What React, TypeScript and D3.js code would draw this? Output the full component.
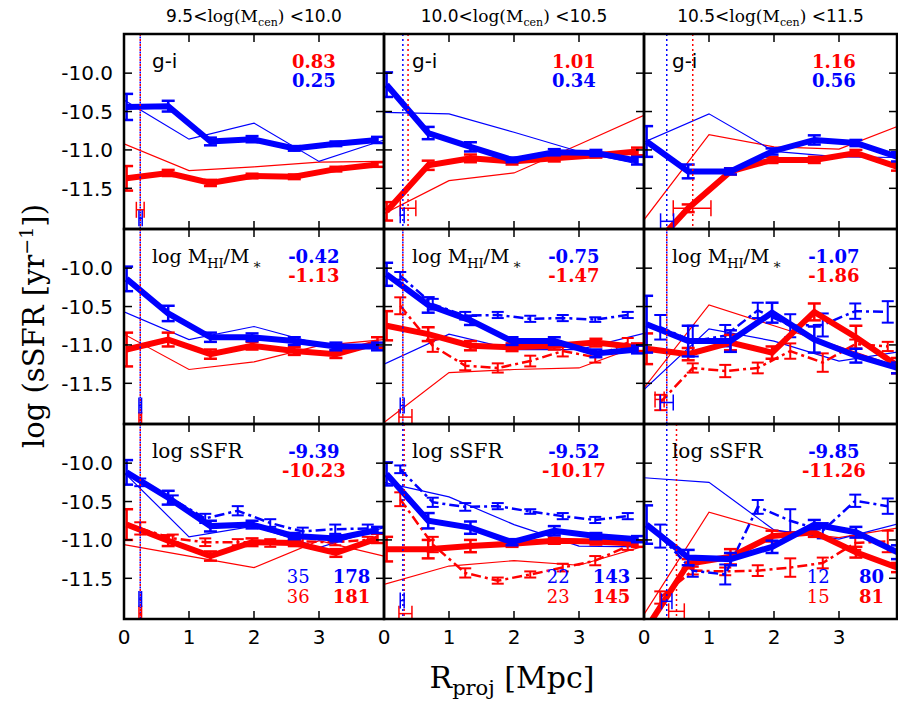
import React from "react";
import * as d3 from "d3";

// ---------- axes / labels ----------
const colLo = ["9.5", "10.0", "10.5"];
const colHi = ["10.0", "10.5", "11.5"];
const yTicks = [-10.0, -10.5, -11.0, -11.5];
const xTicks = [0, 1, 2, 3];
const xMinorTicks = [1, 2, 3];

// x positions of the three kinds of curves (Mpc)
const xThick = [0.04, 0.68, 1.33, 1.97, 2.62, 3.26, 3.9];
const xThin = [0, 1, 2, 3, 4];
const xDash = [0.25, 0.75, 1.25, 1.75, 2.25, 2.75, 3.25, 3.75];

// ---------- row 1 : g-i ----------
const gi_m1_blue = [-10.44, -10.43, -10.89, -10.86, -10.98, -10.92, -10.87];
const gi_m1_blueErr = [0.17, 0.07, 0.05, 0.04, 0.03, 0.03, 0.04];
const gi_m1_red = [-11.37, -11.3, -11.43, -11.34, -11.35, -11.25, -11.19];
const gi_m1_redErr = [0.16, 0.04, 0.04, 0.03, 0.03, 0.03, 0.03];
const gi_m1_blueThin = [-10.35, -10.86, -10.65, -11.15, -10.87];
const gi_m1_redThin = [-10.92, -11.27, -11.22, -11.16, -11.15];

const gi_m2_blue = [-10.15, -10.78, -10.96, -11.13, -11.03, -11.04, -11.14];
const gi_m2_blueErr = [0.16, 0.08, 0.06, 0.03, 0.04, 0.04, 0.05];
const gi_m2_red = [-11.8, -11.2, -11.11, -11.15, -11.11, -11.07, -11.02];
const gi_m2_redErr = [0.12, 0.06, 0.05, 0.04, 0.04, 0.03, 0.05];
const gi_m2_blueThin = [-10.51, -10.53, -10.77, -11.02, -11.2];
const gi_m2_redThin = [-11.83, -11.4, -11.3, -10.93, -10.55];

const gi_m3_blue = [-10.89, -11.28, -11.28, -11.02, -10.87, -10.91, -11.09];
const gi_m3_blueErr = [0.2, 0.09, 0.04, 0.04, 0.06, 0.04, 0.06];
const gi_m3_red = [-12.35, -11.76, -11.28, -11.13, -11.13, -11.04, -11.22];
const gi_m3_redErr = [0.1, 0.05, 0.04, 0.04, 0.04, 0.04, 0.05];
const gi_m3_blueThin = [-10.9, -10.53, -11.02, -11.09, -11.1];
const gi_m3_redThin = [-11.91, -10.8, -10.96, -10.99, -10.66];

// ---------- row 2 : log MHI/M* ----------
const gas_m1_blue = [-10.14, -10.59, -10.9, -10.9, -10.95, -11.02, -11.02];
const gas_m1_blueErr = [0.16, 0.1, 0.06, 0.05, 0.05, 0.05, 0.05];
const gas_m1_red = [-11.06, -10.93, -11.12, -11.01, -11.08, -11.12, -10.97];
const gas_m1_redErr = [0.22, 0.09, 0.06, 0.05, 0.05, 0.05, 0.07];
const gas_m1_blueThin = [-10.57, -10.93, -10.76, -10.99, -11.02];
const gas_m1_redThin = [-10.86, -11.32, -11.22, -11.01, -10.93];

const gas_m2_blue = [-10.08, -10.48, -10.68, -10.95, -10.95, -11.11, -11.06];
const gas_m2_blueErr = [0.15, 0.1, 0.06, 0.05, 0.05, 0.05, 0.05];
const gas_m2_red = [-10.75, -10.86, -11.01, -11.03, -11.01, -10.97, -11.03];
const gas_m2_redErr = [0.19, 0.09, 0.06, 0.05, 0.05, 0.05, 0.05];
const gas_m2_blueDash = [-10.1, -10.47, -10.62, -10.61, -10.66, -10.65, -10.67, -10.61];
const gas_m2_blueDashErr = [0.05, 0.07, 0.05, 0.04, 0.04, 0.04, 0.03, 0.04];
const gas_m2_redDash = [-10.49, -11.01, -11.27, -11.3, -11.21, -11.08, -11.16, -10.97];
const gas_m2_redDashErr = [0.11, 0.08, 0.06, 0.06, 0.07, 0.07, 0.07, 0.06];
const gas_m2_blueThin = [-11.25, -10.86, -11.06, -11.06, -10.85];
const gas_m2_redThin = [-12.01, -11.36, -11.32, -11.3, -10.99];

const gas_m3_blue = [-10.73, -10.95, -10.95, -10.58, -10.93, -11.14, -11.3];
const gas_m3_blueErr = [0.37, 0.2, 0.14, 0.13, 0.17, 0.09, 0.07];
const gas_m3_red = [-11.05, -11.12, -10.97, -11.1, -10.57, -10.9, -11.27];
const gas_m3_redErr = [0.2, 0.08, 0.1, 0.08, 0.11, 0.15, 0.1];
const gas_m3_blueDash = [-10.77, -10.95, -10.88, -10.55, -10.75, -10.74, -10.56, -10.57];
const gas_m3_blueDashErr = [0.16, 0.2, 0.14, 0.1, 0.15, 0.15, 0.1, 0.14];
const gas_m3_redDash = [-11.75, -11.3, -11.34, -11.3, -11.08, -11.23, -10.99, -11.02];
const gas_m3_redDashErr = [0.1, 0.06, 0.08, 0.07, 0.1, 0.12, 0.06, 0.06];
const gas_m3_blueThin = [-11.58, -10.79, -10.95, -11.21, -11.08];
const gas_m3_redThin = [-11.56, -10.48, -10.75, -11.02, -11.31];

// ---------- row 3 : log sSFR ----------
const ssfr_m1_blue = [-10.12, -10.45, -10.82, -10.8, -10.95, -10.98, -10.87];
const ssfr_m1_blueErr = [0.16, 0.09, 0.07, 0.05, 0.04, 0.04, 0.04];
const ssfr_m1_red = [-10.8, -11.01, -11.21, -11.03, -11.04, -11.17, -10.98];
const ssfr_m1_redErr = [0.2, 0.07, 0.06, 0.05, 0.04, 0.05, 0.06];
const ssfr_m1_blueDash = [-10.25, -10.47, -10.72, -10.62, -10.78, -10.89, -10.86, -10.85];
const ssfr_m1_blueDashErr = [0.05, 0.05, 0.06, 0.06, 0.05, 0.05, 0.06, 0.05];
const ssfr_m1_redDash = [-10.85, -10.98, -11.03, -11.03, -11.04, -11.02, -11.03, -11.0];
const ssfr_m1_redDashErr = [0.08, 0.05, 0.05, 0.04, 0.05, 0.04, 0.04, 0.04];
const ssfr_m1_blueThin = [-10.12, -10.96, -10.82, -11.1, -10.84];
const ssfr_m1_redThin = [-11.06, -11.21, -11.36, -11.01, -11.21];

const ssfr_m2_blue = [-10.14, -10.75, -10.84, -11.03, -10.88, -10.95, -10.99];
const ssfr_m2_blueErr = [0.15, 0.1, 0.08, 0.04, 0.06, 0.04, 0.04];
const ssfr_m2_red = [-11.12, -11.12, -11.08, -11.05, -11.01, -11.02, -11.05];
const ssfr_m2_redErr = [0.16, 0.12, 0.08, 0.04, 0.04, 0.04, 0.04];
const ssfr_m2_blueDash = [-10.08, -10.51, -10.57, -10.56, -10.63, -10.69, -10.74, -10.69];
const ssfr_m2_blueDashErr = [0.05, 0.06, 0.05, 0.04, 0.03, 0.04, 0.04, 0.04];
const ssfr_m2_redDash = [-10.47, -11.06, -11.43, -11.53, -11.45, -11.36, -11.27, -11.08];
const ssfr_m2_redDashErr = [0.09, 0.1, 0.06, 0.04, 0.04, 0.05, 0.06, 0.05];
const ssfr_m2_blueThin = [-10.25, -10.44, -10.8, -11.08, -11.09];
const ssfr_m2_redThin = [-11.58, -11.34, -11.27, -11.33, -11.08];

const ssfr_m3_blue = [-10.8, -11.23, -11.25, -11.09, -10.8, -10.9, -11.16];
const ssfr_m3_blueErr = [0.25, 0.1, 0.08, 0.08, 0.06, 0.07, 0.09];
const ssfr_m3_red = [-12.15, -11.31, -11.22, -10.95, -10.9, -11.16, -11.36];
const ssfr_m3_redErr = [0.1, 0.06, 0.1, 0.07, 0.06, 0.07, 0.06];
const ssfr_m3_blueDash = [-10.95, -11.4, -11.45, -10.57, -10.75, -10.88, -10.49, -10.56];
const ssfr_m3_blueDashErr = [0.15, 0.08, 0.13, 0.09, 0.15, 0.1, 0.08, 0.1];
const ssfr_m3_redDash = [-11.75, -11.4, -11.41, -11.4, -11.36, -11.3, -11.04, -11.02];
const ssfr_m3_redDashErr = [0.08, 0.05, 0.05, 0.07, 0.12, 0.07, 0.09, 0.14];
const ssfr_m3_blueThin = [-10.19, -10.25, -10.87, -10.99, -10.77];
const ssfr_m3_redThin = [-11.97, -10.64, -10.88, -10.97, -10.83];

// median radii (blue, red) and their markers [centre, half-width, y]
const vlines = [
  [[0.25, 0.25], [0.29, 0.37], [0.35, 0.75]],
  [[0.25, 0.25], [0.29, 0.29], [0.35, 0.35]],
  [[0.25, 0.25], [0.29, 0.31], [0.35, 0.5]],
];
const hBlue = [
  [[0.255, 0.025, -11.89], [0.28, 0.03, -11.85], [0.355, 0.1, -11.93]],
  [[0.25, 0.02, -11.79], [0.28, 0.03, -11.79], [0.35, 0.1, -11.75]],
  [[0.25, 0.02, -11.77], [0.28, 0.03, -11.79], [0.35, 0.08, -11.8]],
];
const hRed = [
  [[0.25, 0.06, -11.78], [0.37, 0.12, -11.76], [0.74, 0.29, -11.76]],
  [[0.25, 0.02, -11.98], [0.33, 0.1, -11.94], [0.24, 0.07, -11.71]],
  [[0.25, 0.02, -11.96], [0.33, 0.1, -11.96], [0.5, 0.12, -11.93]],
];

// statistics text
const statTop = [["0.83", "1.01", "1.16"], ["-0.42", "-0.75", "-1.07"], ["-9.39", "-9.52", "-9.85"]];
const statBottom = [["0.25", "0.34", "0.56"], ["-1.13", "-1.47", "-1.86"], ["-10.23", "-10.17", "-11.26"]];
const nBlueSmall = ["35", "22", "12"];
const nBlueAll = ["178", "143", "80"];
const nRedSmall = ["36", "23", "15"];
const nRedAll = ["181", "145", "81"];

const BLUE = "#0000ff";
const RED = "#ff0000";

const panels = [
  [
    { blue: gi_m1_blue, blueErr: gi_m1_blueErr, red: gi_m1_red, redErr: gi_m1_redErr, blueThin: gi_m1_blueThin, redThin: gi_m1_redThin },
    { blue: gi_m2_blue, blueErr: gi_m2_blueErr, red: gi_m2_red, redErr: gi_m2_redErr, blueThin: gi_m2_blueThin, redThin: gi_m2_redThin },
    { blue: gi_m3_blue, blueErr: gi_m3_blueErr, red: gi_m3_red, redErr: gi_m3_redErr, blueThin: gi_m3_blueThin, redThin: gi_m3_redThin },
  ],
  [
    { blue: gas_m1_blue, blueErr: gas_m1_blueErr, red: gas_m1_red, redErr: gas_m1_redErr, blueThin: gas_m1_blueThin, redThin: gas_m1_redThin },
    { blue: gas_m2_blue, blueErr: gas_m2_blueErr, red: gas_m2_red, redErr: gas_m2_redErr, blueThin: gas_m2_blueThin, redThin: gas_m2_redThin,
      blueDash: gas_m2_blueDash, blueDashErr: gas_m2_blueDashErr, redDash: gas_m2_redDash, redDashErr: gas_m2_redDashErr },
    { blue: gas_m3_blue, blueErr: gas_m3_blueErr, red: gas_m3_red, redErr: gas_m3_redErr, blueThin: gas_m3_blueThin, redThin: gas_m3_redThin,
      blueDash: gas_m3_blueDash, blueDashErr: gas_m3_blueDashErr, redDash: gas_m3_redDash, redDashErr: gas_m3_redDashErr },
  ],
  [
    { blue: ssfr_m1_blue, blueErr: ssfr_m1_blueErr, red: ssfr_m1_red, redErr: ssfr_m1_redErr, blueThin: ssfr_m1_blueThin, redThin: ssfr_m1_redThin,
      blueDash: ssfr_m1_blueDash, blueDashErr: ssfr_m1_blueDashErr, redDash: ssfr_m1_redDash, redDashErr: ssfr_m1_redDashErr },
    { blue: ssfr_m2_blue, blueErr: ssfr_m2_blueErr, red: ssfr_m2_red, redErr: ssfr_m2_redErr, blueThin: ssfr_m2_blueThin, redThin: ssfr_m2_redThin,
      blueDash: ssfr_m2_blueDash, blueDashErr: ssfr_m2_blueDashErr, redDash: ssfr_m2_redDash, redDashErr: ssfr_m2_redDashErr },
    { blue: ssfr_m3_blue, blueErr: ssfr_m3_blueErr, red: ssfr_m3_red, redErr: ssfr_m3_redErr, blueThin: ssfr_m3_blueThin, redThin: ssfr_m3_redThin,
      blueDash: ssfr_m3_blueDash, blueDashErr: ssfr_m3_blueDashErr, redDash: ssfr_m3_redDash, redDashErr: ssfr_m3_redDashErr },
  ],
];

// ---------- layout ----------
const W = 898;
const H = 704;
const colLeft = [124, 384, 644];
const colRight = [384, 644, 897];
const rowTop = [34, 229, 424];
const rowH = 195;
const PX_PER_MPC = 65;
const Y_DOMAIN = [-12.03, -9.49];

const SANS = "'DejaVu Sans', sans-serif";
const SERIF = "'DejaVu Serif', serif";

function ErrBars({ xs, ys, es, xS, yS, color, sw, cap }) {
  return (
    <g stroke={color} strokeWidth={sw} fill="none">
      {ys.map((v, i) => {
        const x = xS(xs[i]);
        const y1 = yS(v - es[i]);
        const y2 = yS(v + es[i]);
        return (
          <g key={i}>
            <line x1={x} x2={x} y1={y1} y2={y2} />
            <line x1={x - cap} x2={x + cap} y1={y1} y2={y1} />
            <line x1={x - cap} x2={x + cap} y1={y2} y2={y2} />
          </g>
        );
      })}
    </g>
  );
}

function HMarker({ m, xS, yS, color }) {
  const [c, hw, yv] = m;
  const y = yS(yv);
  const x1 = xS(c - hw);
  const x2 = xS(c + hw);
  return (
    <g stroke={color} strokeWidth={1.5} fill="none">
      <line x1={x1} x2={x2} y1={y} y2={y} />
      <line x1={x1} x2={x1} y1={y - 8} y2={y + 8} />
      <line x1={x2} x2={x2} y1={y - 8} y2={y + 8} />
    </g>
  );
}

function Panel({ r, c }) {
  const d = panels[r][c];
  const left = colLeft[c];
  const right = colRight[c];
  const top = rowTop[r];
  const bottom = top + rowH;
  const xS = d3.scaleLinear().domain([0, (right - left) / PX_PER_MPC]).range([left, right]);
  const yS = d3.scaleLinear().domain(Y_DOMAIN).range([bottom, top]);
  const line = (xs) => d3.line().x((_, i) => xS(xs[i])).y((v) => yS(v));
  const clipId = `clip-${r}-${c}`;
  const [vb, vr] = vlines[r][c];
  const rowLabelX = xS(0.43);
  const statX = xS(2.92);

  let label;
  if (r === 0) {
    label = (
      <text x={rowLabelX} y={top + 34} fontFamily={SANS} fontSize={20} fill="#000">g-i</text>
    );
  } else if (r === 1) {
    label = (
      <text x={rowLabelX} y={top + 34} fontFamily={SERIF} fontSize={19} fill="#000">
        log M<tspan fontSize={13} dy={5}>HI</tspan>
        <tspan dy={-5}>/M</tspan>
        <tspan fontSize={14} dy={6} dx={3}>∗</tspan>
      </text>
    );
  } else {
    label = (
      <text x={rowLabelX} y={top + 34} fontFamily={SERIF} fontSize={20} fill="#000">log sSFR</text>
    );
  }
  const topColor = r === 0 ? RED : BLUE;
  const botColor = r === 0 ? BLUE : RED;

  return (
    <g>
      <defs>
        <clipPath id={clipId}>
          <rect x={left} y={top} width={right - left} height={rowH} />
        </clipPath>
      </defs>
      <g clipPath={`url(#${clipId})`}>
        <path d={line(xThin)(d.redThin)} stroke={RED} strokeWidth={1.2} fill="none" />
        <path d={line(xThin)(d.blueThin)} stroke={BLUE} strokeWidth={1.2} fill="none" />
        {d.redDash && (
          <g>
            <path d={line(xDash)(d.redDash)} stroke={RED} strokeWidth={2.5} fill="none" strokeDasharray="10,4,3,4" />
            <ErrBars xs={xDash} ys={d.redDash} es={d.redDashErr} xS={xS} yS={yS} color={RED} sw={2} cap={6} />
          </g>
        )}
        {d.blueDash && (
          <g>
            <path d={line(xDash)(d.blueDash)} stroke={BLUE} strokeWidth={2.5} fill="none" strokeDasharray="10,4,3,4" />
            <ErrBars xs={xDash} ys={d.blueDash} es={d.blueDashErr} xS={xS} yS={yS} color={BLUE} sw={2} cap={6} />
          </g>
        )}
        <path d={line(xThick)(d.red)} stroke={RED} strokeWidth={6} fill="none" strokeLinejoin="miter" />
        <ErrBars xs={xThick} ys={d.red} es={d.redErr} xS={xS} yS={yS} color={RED} sw={2.5} cap={6.5} />
        <path d={line(xThick)(d.blue)} stroke={BLUE} strokeWidth={6} fill="none" strokeLinejoin="miter" />
        <ErrBars xs={xThick} ys={d.blue} es={d.blueErr} xS={xS} yS={yS} color={BLUE} sw={2.5} cap={6.5} />
        <line x1={xS(vr)} x2={xS(vr)} y1={top} y2={bottom} stroke={RED} strokeWidth={1.5} strokeDasharray="2,3" />
        <line x1={xS(vb)} x2={xS(vb)} y1={top} y2={bottom} stroke={BLUE} strokeWidth={1.5} strokeDasharray="2,3" strokeDashoffset={vb === vr ? 2.5 : 0} />
        <HMarker m={hRed[r][c]} xS={xS} yS={yS} color={RED} />
        <HMarker m={hBlue[r][c]} xS={xS} yS={yS} color={BLUE} />
      </g>
      {/* ticks */}
      <g stroke="#000" strokeWidth={1.5}>
        {yTicks.map((t) => (
          <g key={t}>
            <line x1={left} x2={left + 8} y1={yS(t)} y2={yS(t)} />
            <line x1={right - 8} x2={right} y1={yS(t)} y2={yS(t)} />
          </g>
        ))}
        {xMinorTicks.map((t) => (
          <g key={t}>
            <line x1={xS(t)} x2={xS(t)} y1={top} y2={top + 8} />
            <line x1={xS(t)} x2={xS(t)} y1={bottom - 8} y2={bottom} />
          </g>
        ))}
      </g>
      <rect x={left} y={top} width={right - left} height={rowH} fill="none" stroke="#000" strokeWidth={2.5} />
      {label}
      <text x={statX} y={top + 34} textAnchor="middle" fontFamily={SERIF} fontWeight="bold" fontSize={18} fill={topColor}>{statTop[r][c]}</text>
      <text x={statX} y={top + 53} textAnchor="middle" fontFamily={SERIF} fontWeight="bold" fontSize={18} fill={botColor}>{statBottom[r][c]}</text>
      {r === 2 && (
        <g fontFamily={SERIF} fontSize={18} textAnchor="middle">
          <text x={xS(2.68)} y={top + 159} fill={BLUE}>{nBlueSmall[c]}</text>
          <text x={xS(3.5)} y={top + 159} fill={BLUE} fontWeight="bold">{nBlueAll[c]}</text>
          <text x={xS(2.68)} y={top + 179} fill={RED}>{nRedSmall[c]}</text>
          <text x={xS(3.5)} y={top + 179} fill={RED} fontWeight="bold">{nRedAll[c]}</text>
        </g>
      )}
      {c === 0 && (
        <g fontFamily={SANS} fontSize={20} textAnchor="end">
          {yTicks.map((t) => (
            <text key={t} x={left - 11} y={yS(t)} dy="0.36em" fill="#000">{d3.format(".1f")(t).replace("−", "-")}</text>
          ))}
        </g>
      )}
      {r === 2 && (
        <g fontFamily={SANS} fontSize={20} textAnchor="middle">
          {xTicks.map((t) => (
            <text key={t} x={xS(t)} y={bottom + 25} fill="#000">{t}</text>
          ))}
        </g>
      )}
      {r === 0 && (
        <text x={(left + right) / 2} y={22} textAnchor="middle" fontSize={17} fill="#000">
          <tspan fontFamily={SANS}>{colLo[c]}&lt;</tspan>
          <tspan fontFamily={SERIF}>log(M</tspan>
          <tspan fontFamily={SERIF} fontSize={11} dy={4}>cen</tspan>
          <tspan fontFamily={SERIF} dy={-4}>)</tspan>
          <tspan fontFamily={SANS}> &lt;{colHi[c]}</tspan>
        </text>
      )}
    </g>
  );
}

export default function App() {
  const cells = [];
  for (let r = 0; r < 3; r++) for (let c = 0; c < 3; c++) cells.push([r, c]);
  return (
    <svg width={W} height={H} style={{ position: "absolute", left: 0, top: 0, background: "#fff" }}>
      <rect x={0} y={0} width={W} height={H} fill="#fff" />
      {cells.map(([r, c]) => (
        <Panel key={`${r}-${c}`} r={r} c={c} />
      ))}
      <text transform="translate(44,326) rotate(-90)" textAnchor="middle" fontFamily={SERIF} fontSize={29} fill="#000">
        log (sSFR [yr<tspan fontSize={19} dy={-11}>−1</tspan><tspan dy={11}>])</tspan>
      </text>
      <text x={512} y={688} textAnchor="middle" fontFamily={SERIF} fontSize={30} fill="#000">
        R<tspan fontSize={21} dy={7}>proj</tspan><tspan dy={-7}> [Mpc]</tspan>
      </text>
    </svg>
  );
}
